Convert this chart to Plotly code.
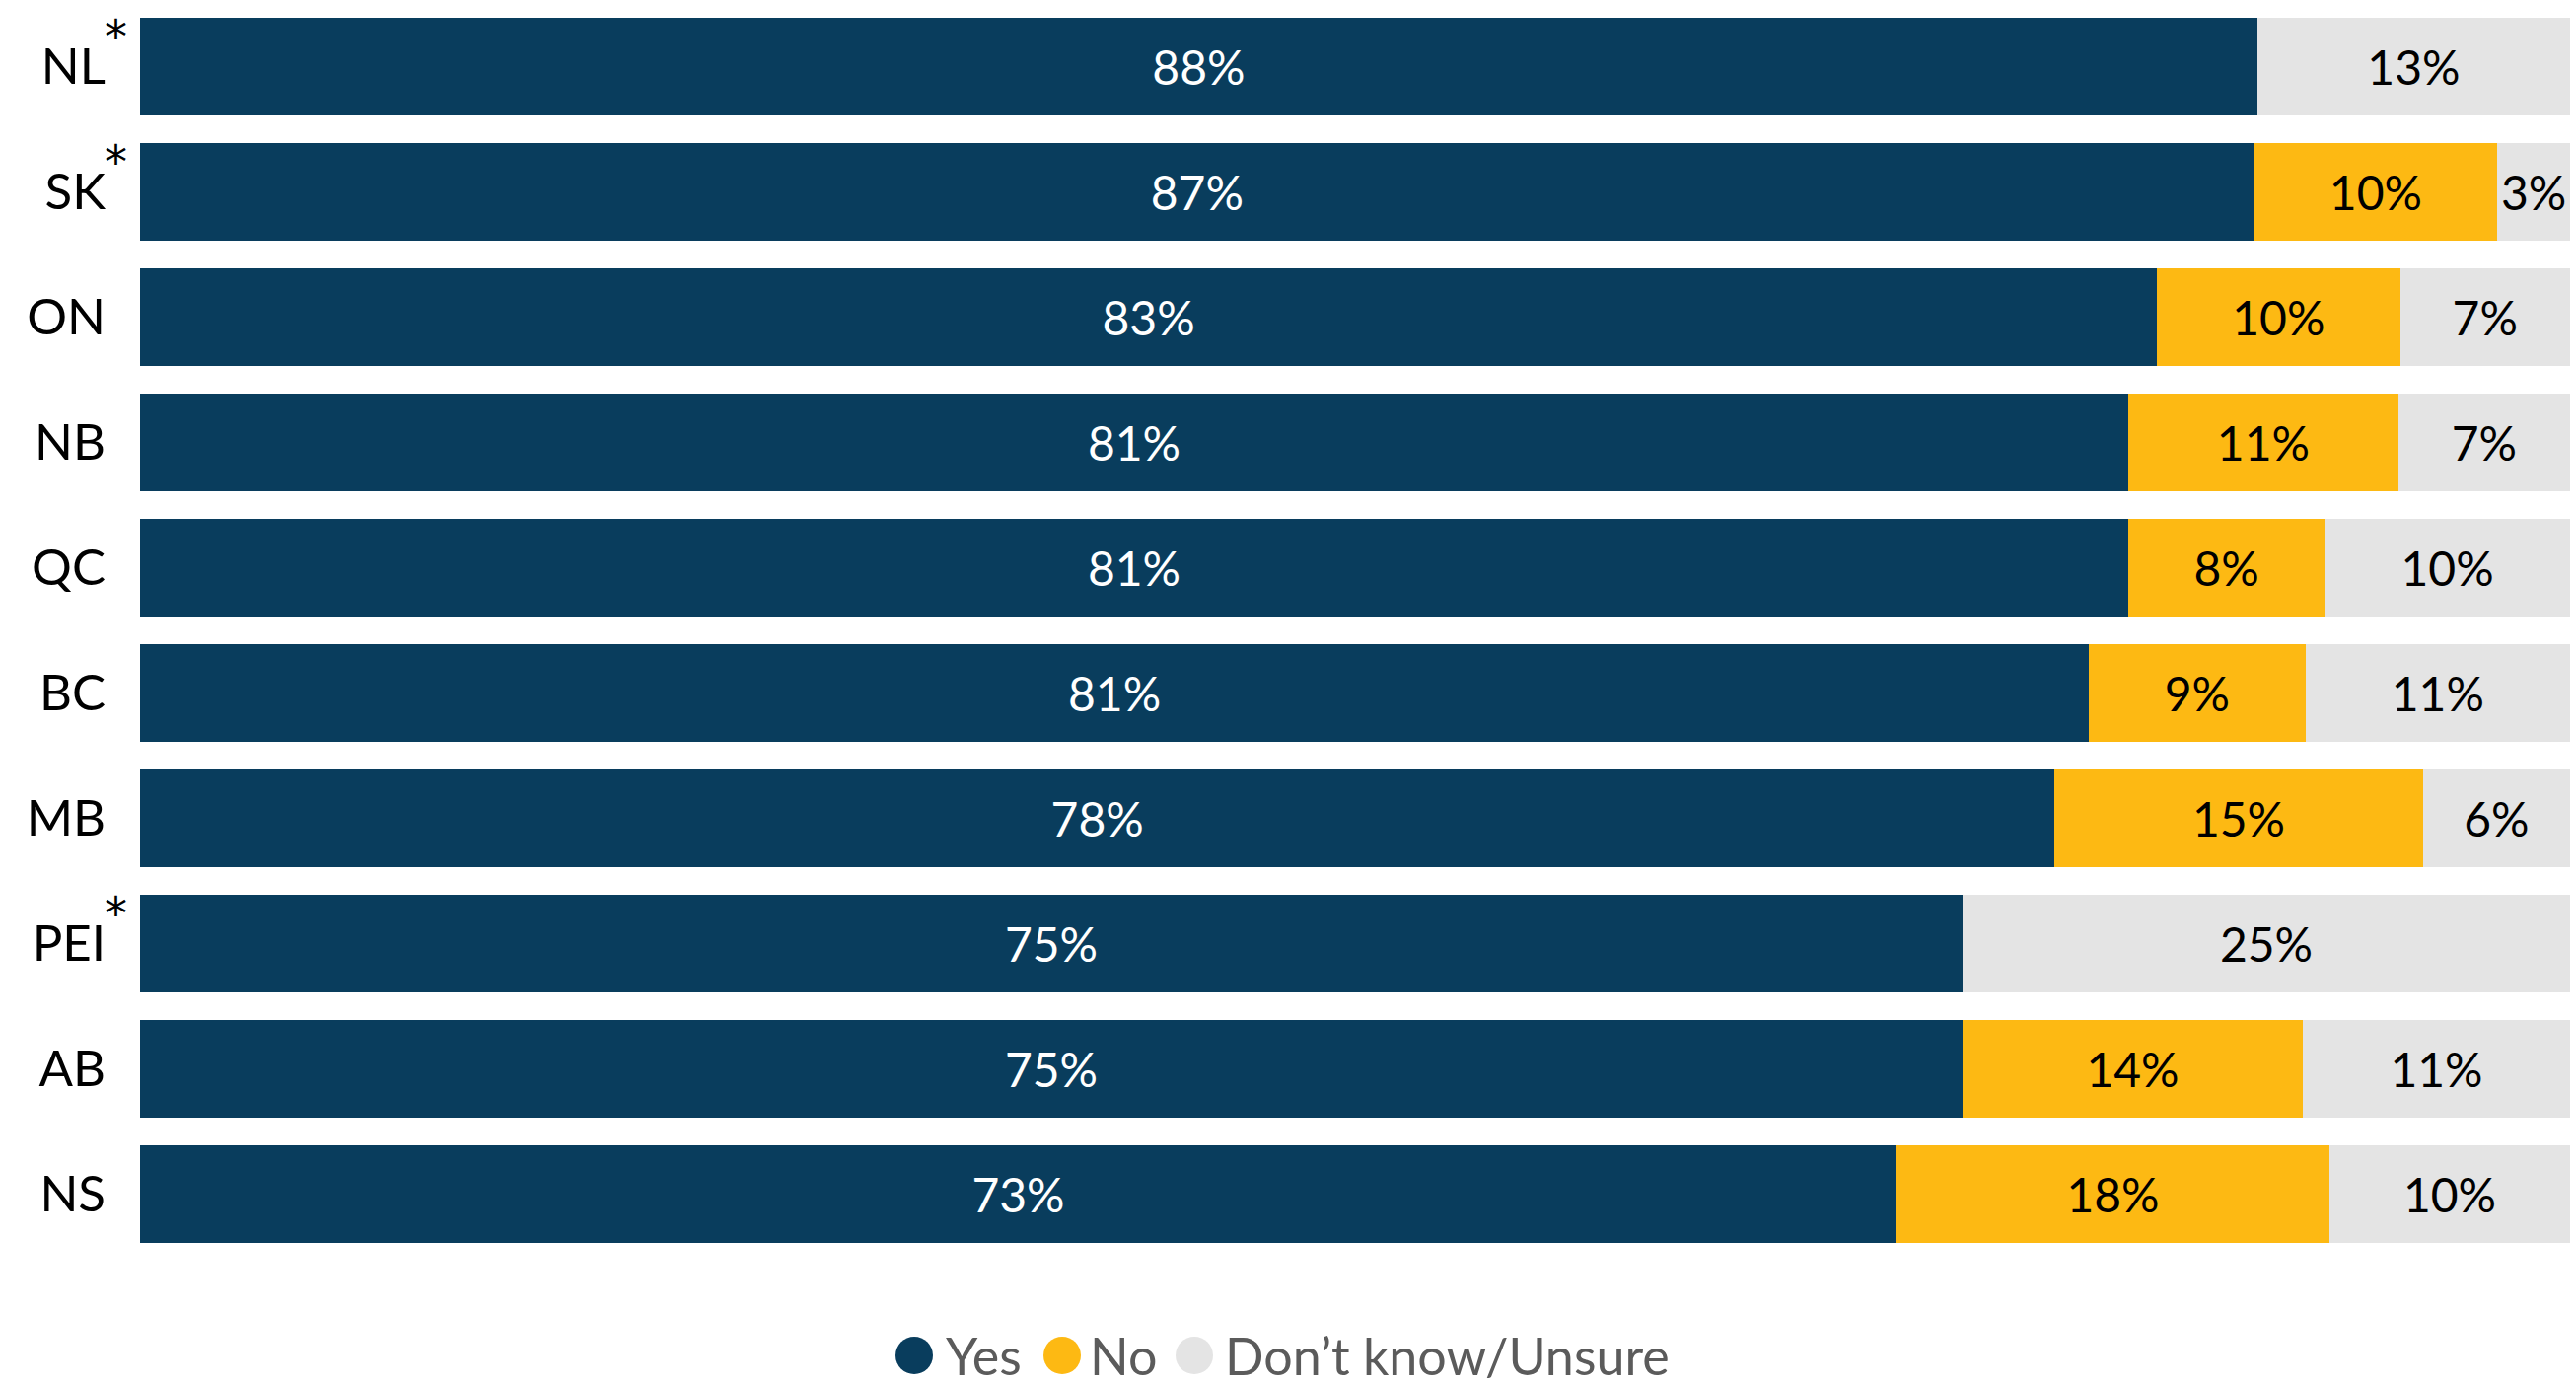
import plotly.graph_objects as go

# Survey responses by province (percent of respondents)
provinces = ["NL", "SK", "ON", "NB", "QC", "BC", "MB", "PEI", "AB", "NS"]
flagged = ["NL", "SK", "PEI"]
yes_vals = [88, 87, 83, 81, 81, 81, 78, 75, 75, 73]
no_vals = [None, 10, 10, 11, 8, 9, 15, None, 14, 18]
unsure_vals = [13, 3, 7, 7, 10, 11, 6, 25, 11, 10]

series_names = ["Yes", "No", "Don\u2019t know/Unsure"]
series_colors = ["#093D5D", "#FDB913", "#E4E4E4"]
text_colors = ["#FFFFFF", "#000000", "#000000"]

FONT = "Lato, sans-serif"
W, H = 2612, 1404
ML, MR, MT, MB = 142, 6, 3.5, 130

fig = go.Figure()
for name, vals, color, tcol in zip(series_names, [yes_vals, no_vals, unsure_vals],
                                   series_colors, text_colors):
    fig.add_trace(go.Bar(
        y=provinces,
        x=vals,
        name=name,
        orientation="h",
        marker=dict(color=color, line=dict(width=0)),
        text=[f"{v}%" if v else "" for v in vals],
        textposition="inside",
        insidetextanchor="middle",
        textangle=0,
        textfont=dict(color=tcol, size=48, family=FONT),
        showlegend=False,
        hoverinfo="skip",
    ))

fig.update_layout(
    width=W, height=H,
    margin=dict(l=ML, r=MR, t=MT, b=MB, pad=0),
    barmode="stack",
    barnorm="percent",
    bargap=0.213,
    plot_bgcolor="white",
    paper_bgcolor="white",
    uniformtext=dict(minsize=48, mode="show"),
    font=dict(family=FONT, color="#000000"),
    xaxis=dict(range=[0, 100], visible=False, showgrid=False, zeroline=False),
    yaxis=dict(autorange="reversed", showgrid=False, zeroline=False, ticks="",
               showline=False, tickfont=dict(size=51, color="#000000", family=FONT),
               ticklabelstandoff=34),
)

# Asterisks next to flagged province labels
for p in flagged:
    fig.add_annotation(x=-0.0101, y=p, xref="paper", yref="y", text="*",
                       showarrow=False, xanchor="center", yanchor="middle",
                       yshift=31, font=dict(size=46, color="#000000",
                                            family="DejaVu Sans"))

# Legend drawn with circular swatches
plot_w = W - ML - MR
plot_h = H - MT - MB
leg_y = (H - MB - 1374) / plot_h
leg_marker_px = [927, 1077, 1211]
leg_text_px = [957, 1103, 1240]
for name, color, mx, tx in zip(series_names, series_colors, leg_marker_px, leg_text_px):
    fig.add_shape(type="circle", xref="paper", yref="paper",
                  xsizemode="pixel", ysizemode="pixel",
                  xanchor=(mx - ML) / plot_w, yanchor=leg_y,
                  x0=-19, x1=19, y0=-19, y1=19,
                  fillcolor=color, line=dict(width=0))
    fig.add_annotation(x=(tx - ML) / plot_w, y=leg_y, xref="paper", yref="paper",
                       text=name, showarrow=False, xanchor="left", yanchor="middle",
                       font=dict(size=52, color="#5B5B5B", family=FONT))

fig.write_html("out.html")
